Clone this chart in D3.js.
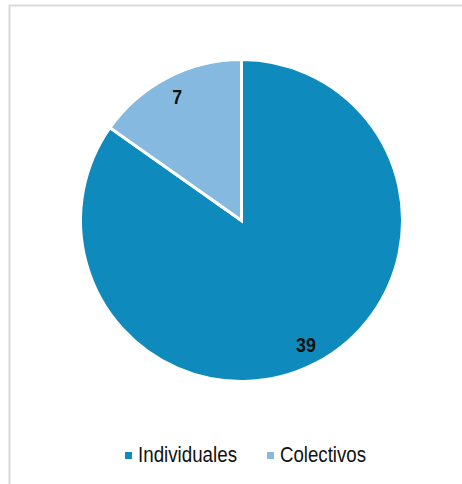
<!DOCTYPE html>
<html>
<head>
<meta charset="utf-8">
<script src="https://cdn.jsdelivr.net/npm/d3@7"></script>
<style>
  html, body { margin: 0; padding: 0; background: #fff; }
  svg { display: block; }
</style>
</head>
<body>
<svg id="chart" width="462" height="484"></svg>
<script>
// Number of agreements by type
const categories = ["Individuales", "Colectivos"];
const values = [39, 7];
const colors = ["#0f8abd", "#86b9df"];

const W = 462, H = 484;
const svg = d3.select("#chart");
const fontFam = "'Liberation Sans Narrow', 'Arial Narrow', 'Liberation Sans', Arial, sans-serif";

// chart frame (top and left edges visible)
svg.append("path")
  .attr("d", `M9.5,${H} V5.5 H${W}`)
  .attr("fill", "none")
  .attr("stroke", "#d9d9d9")
  .attr("stroke-width", 2);

const cx = 241.5, cy = 220.5, R = 161;

const data = categories.map((c, i) => ({ cat: c, value: values[i], color: colors[i] }));

const pie = d3.pie().value(d => d.value).sort(null);
const arcs = pie(data);
const arc = d3.arc().innerRadius(0).outerRadius(R);
const labelArc = d3.arc().innerRadius(140).outerRadius(140);

const g = svg.append("g").attr("transform", `translate(${cx},${cy})`);

g.selectAll("path.slice")
  .data(arcs)
  .join("path")
  .attr("class", "slice")
  .attr("d", arc)
  .attr("fill", d => d.data.color)
  .attr("stroke", "#fff")
  .attr("stroke-width", 3)
  .attr("stroke-linejoin", "miter");

// value labels, set in a condensed bold face
g.selectAll("text.val")
  .data(arcs)
  .join("text")
  .attr("class", "val")
  .attr("transform", d => `translate(${labelArc.centroid(d)}) scale(0.85,1)`)
  .attr("text-anchor", "middle")
  .attr("dy", "0.36em")
  .attr("font-family", fontFam)
  .attr("font-weight", "bold")
  .attr("font-size", 21)
  .attr("fill", "#111")
  .text(d => d.data.value);

// legend
const legendX = [125, 267];
const legendLen = [99, 86];
const lg = svg.append("g");
data.forEach((d, i) => {
  lg.append("rect")
    .attr("x", legendX[i])
    .attr("y", 452)
    .attr("width", 7)
    .attr("height", 7)
    .attr("fill", d.color);
  lg.append("text")
    .attr("x", legendX[i] + 13)
    .attr("y", 462)
    .attr("font-family", fontFam)
    .attr("font-size", 22)
    .attr("textLength", legendLen[i])
    .attr("lengthAdjust", "spacingAndGlyphs")
    .attr("fill", "#111")
    .text(d.cat);
});
</script>
</body>
</html>
